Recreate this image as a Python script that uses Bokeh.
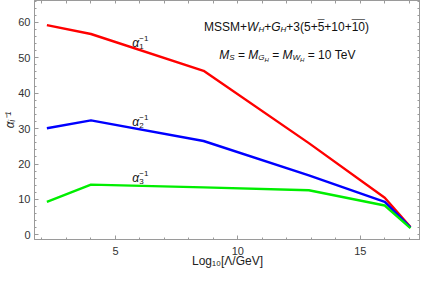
import math
from bokeh.plotting import figure
from bokeh.models import ColumnDataSource, Range1d, FixedTicker, LinearAxis
from bokeh.embed import file_html
from bokeh.resources import INLINE
from bokeh.core.properties import value

# ---------------- data ----------------
log_scale = [2.2, 4.0, 8.6, 12.9, 16.0, 17.05]
alpha1_inv = [59.2, 56.7, 46.3, 25.9, 10.5, 2.2]
alpha2_inv = [30.1, 32.3, 26.5, 16.8, 9.3, 2.1]
alpha3_inv = [9.3, 14.2, 13.4, 12.6, 8.3, 1.9]
series_names = ["1", "2", "3"]
x_ticks = [5, 10, 15]
x_minor = [v for v in range(2, 18) if v not in x_ticks]
y_ticks = [0, 10, 20, 30, 40, 50, 60]
y_minor = [v for v in range(0, 67, 2) if v not in y_ticks]

X0, X1 = 1.694, 17.46
Y0, Y1 = -1.30, 66.15

FONT = "Liberation Sans"
FRAME = "#9a9a9a"
NB = "\u00a0"

# Arial/Liberation Sans advance widths (per 1000 em)
W = {"M": 833, "S": 667, " ": 278, NB: 278, "+": 584, "=": 584, "W": 944,
     "G": 778, "H": 722, "(": 333, ")": 333, "T": 611, "e": 556, "V": 667,
     "α": 578, "−": 584}


def tw(s, size):
    return sum(W.get(c, 556) for c in s) * size / 1000.0


def build_runs(ax, ay, items, out):
    off = 0.0
    for it in items:
        text, style, size, dy = it[:4]
        over = len(it) > 4 and it[4]
        adv = it[5] if len(it) > 5 else True
        out["x"].append(ax); out["y"].append(ay)
        out["text"].append(text); out["style"].append(style)
        out["size"].append(f"{size}px"); out["xo"].append(off); out["yo"].append(dy)
        if over:
            for k in range(len(text)):
                out["x"].append(ax); out["y"].append(ay)
                out["text"].append("¯"); out["style"].append("normal")
                out["size"].append(f"{size}px")
                out["xo"].append(off + tw(text[:k], size)); out["yo"].append(dy - 2)
        if adv:
            off += tw(text, size)


p = figure(width=420, height=271, output_backend="svg", toolbar_location=None,
           x_range=Range1d(X0, X1), y_range=Range1d(Y0, Y1),
           min_border_left=28, min_border_right=0, min_border_top=0,
           min_border_bottom=32)
p.background_fill_color = "white"
p.border_fill_color = "white"
p.outline_line_color = FRAME
p.xgrid.visible = False
p.ygrid.visible = False

colors = ["#ff0000", "#0000ff", "#00ee00"]
for ys, c in zip([alpha1_inv, alpha2_inv, alpha3_inv], colors):
    p.line(log_scale, ys, line_color=c, line_width=2.4)


def style_axis(ax):
    ax.axis_line_color = FRAME
    ax.major_tick_line_color = FRAME
    ax.minor_tick_line_color = FRAME
    ax.major_tick_in = 4
    ax.major_tick_out = 0
    ax.minor_tick_in = 2
    ax.minor_tick_out = 0
    ax.major_label_text_font = FONT
    ax.major_label_text_font_size = "11px"
    ax.major_label_text_color = "#333333"
    ax.axis_label_text_font = FONT
    ax.axis_label_text_font_size = "12px"
    ax.axis_label_text_color = "#222222"


style_axis(p.xaxis[0])
style_axis(p.yaxis[0])
p.xaxis.ticker = FixedTicker(ticks=x_ticks, minor_ticks=x_minor)
p.yaxis.ticker = FixedTicker(ticks=y_ticks, minor_ticks=y_minor)
p.xaxis.axis_label = "Log₁₀[Λ/GeV]"
p.xaxis.axis_label_text_font_style = "normal"
p.xaxis.major_label_standoff = 7
p.xaxis.axis_label_standoff = -4
if "axis_label_text_baseline" in p.xaxis[0].properties():
    p.xaxis.axis_label_text_baseline = "middle"
p.yaxis.axis_label = "αᵢ⁻¹"
p.yaxis.axis_label_text_font_style = "italic"
p.yaxis.major_label_standoff = 4
p.yaxis.axis_label_standoff = -2

# tick marks on the top and right frame edges (no labels)
top = LinearAxis(ticker=FixedTicker(ticks=[], minor_ticks=x_ticks + x_minor))
right = LinearAxis(ticker=FixedTicker(ticks=[], minor_ticks=y_ticks + y_minor))
for ax in (top, right):
    style_axis(ax)
    ax.minor_tick_in = 3
    ax.major_label_standoff = 0
    ax.axis_label = None
p.add_layout(top, "above")
p.add_layout(right, "right")

# ---------------- annotations ----------------
runs = {"x": [], "y": [], "text": [], "style": [], "size": [], "xo": [], "yo": []}

label_pos_x = 5.69
label_pos_y = [54.2, 32.0, 16.0]
for name, ly in zip(series_names, label_pos_y):
    build_runs(label_pos_x, ly, [
        ("α", "italic", 12, 0),
        ("−1", "normal", 8, -4.5, False, False),
        (name, "normal", 8, 3.5),
    ], runs)

build_runs(8.62, 58.8, [
    ("MSSM+", "normal", 12, 0),
    ("W", "italic", 12, 0),
    ("H", "italic", 8, 3),
    ("+", "normal", 12, 0),
    ("G", "italic", 12, 0),
    ("H", "italic", 8, 3),
    ("+3(5+", "normal", 12, 0),
    ("5", "normal", 12, 0, True),
    ("+10+", "normal", 12, 0),
    ("10", "normal", 12, 0, True),
    (")", "normal", 12, 0),
], runs)

EQ = NB + "=" + NB
build_runs(9.24, 50.86, [
    ("M", "italic", 12, 0),
    ("S", "italic", 8, 3),
    (EQ, "normal", 12, 0),
    ("M", "italic", 12, 0),
    ("G", "italic", 8, 3),
    ("H", "italic", 6, 5),
    (EQ, "normal", 12, 0),
    ("M", "italic", 12, 0),
    ("W", "italic", 8, 3),
    ("H", "italic", 6, 5),
    (EQ + "10" + NB + "TeV", "normal", 12, 0),
], runs)

src = ColumnDataSource(runs)
p.text(x="x", y="y", text="text", x_offset="xo", y_offset="yo",
       text_font_size="size", text_font_style="style", source=src,
       text_font=value(FONT), text_color="#111111",
       text_align="left", text_baseline="alphabetic")

open("out.html", "w").write(file_html(p, INLINE))
